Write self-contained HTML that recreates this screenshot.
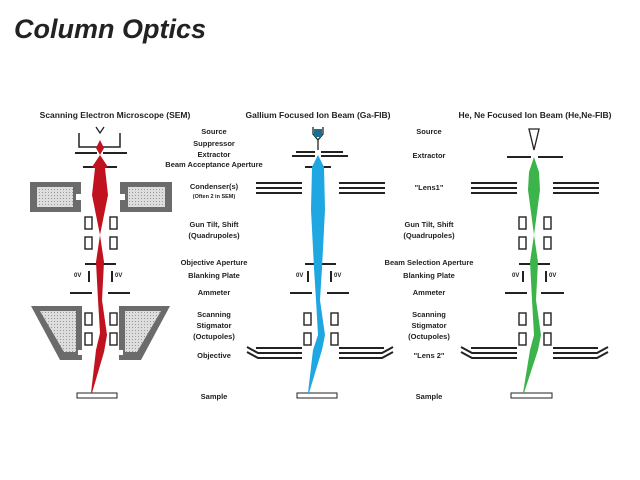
<!DOCTYPE html>
<html><head><meta charset="utf-8"><style>
html,body{margin:0;padding:0;background:#fff;width:640px;height:480px;overflow:hidden}
svg{display:block}
text{font-family:"Liberation Sans",sans-serif;font-weight:bold;fill:#222}
</style></head><body>
<svg width="640" height="480" viewBox="0 0 640 480">
<defs>
<pattern id="h" width="3" height="3" patternUnits="userSpaceOnUse"><rect width="3" height="3" fill="#ddd"/><rect width="1" height="1" fill="#999"/></pattern>
</defs>
<text x="14" y="38" font-size="27" font-style="italic" fill="#111">Column Optics</text>
<text x="115" y="118" font-size="8.5" text-anchor="middle">Scanning Electron Microscope (SEM)</text>
<text x="318" y="118" font-size="8.5" text-anchor="middle">Gallium Focused Ion Beam (Ga-FIB)</text>
<text x="535" y="118" font-size="8.5" text-anchor="middle">He, Ne Focused Ion Beam (He,Ne-FIB)</text>
<g font-size="7.5" text-anchor="middle">
<text x="214" y="134">Source</text>
<text x="214" y="146">Suppressor</text>
<text x="214" y="157">Extractor</text>
<text x="214" y="167">Beam Acceptance Aperture</text>
<text x="214" y="189">Condenser(s)</text>
<text x="214" y="198" font-size="5.5">(Often 2 in SEM)</text>
<text x="214" y="227">Gun Tilt, Shift</text>
<text x="214" y="238">(Quadrupoles)</text>
<text x="214" y="265">Objective Aperture</text>
<text x="214" y="278">Blanking Plate</text>
<text x="214" y="295">Ammeter</text>
<text x="214" y="317">Scanning</text>
<text x="214" y="328">Stigmator</text>
<text x="214" y="339">(Octupoles)</text>
<text x="214" y="358">Objective</text>
<text x="214" y="399">Sample</text>
<text x="429" y="134">Source</text>
<text x="429" y="158">Extractor</text>
<text x="429" y="190">"Lens1"</text>
<text x="429" y="227">Gun Tilt, Shift</text>
<text x="429" y="238">(Quadrupoles)</text>
<text x="429" y="265">Beam Selection Aperture</text>
<text x="429" y="278">Blanking Plate</text>
<text x="429" y="295">Ammeter</text>
<text x="429" y="317">Scanning</text>
<text x="429" y="328">Stigmator</text>
<text x="429" y="339">(Octupoles)</text>
<text x="429" y="358">"Lens 2"</text>
<text x="429" y="399">Sample</text>
</g>
<g font-size="6" font-weight="normal">
<text x="74" y="277">0V</text><text x="115" y="277">0V</text>
<text x="296" y="277">0V</text><text x="334" y="277">0V</text>
<text x="512" y="277">0V</text><text x="549" y="277">0V</text>
</g>
<g stroke="#222" stroke-width="2" fill="none">
<!-- SEM -->
<polyline points="79,133 79,147 120,147 120,133" stroke-width="1.5"/>
<polyline points="96,127 100,133 104,127" stroke-width="1.3"/>
<line x1="75" y1="153" x2="97" y2="153"/><line x1="103" y1="153" x2="127" y2="153"/>
<line x1="83" y1="167" x2="117" y2="167"/>
<line x1="85" y1="264" x2="116" y2="264"/>
<line x1="89" y1="271" x2="89" y2="282"/><line x1="112" y1="271" x2="112" y2="282"/>
<line x1="70" y1="293" x2="92" y2="293"/><line x1="108" y1="293" x2="130" y2="293"/>
<!-- Ga -->
<line x1="296" y1="152" x2="315" y2="152"/><line x1="321" y1="152" x2="343" y2="152"/>
<line x1="292" y1="156" x2="315" y2="156"/><line x1="321" y1="156" x2="348" y2="156"/>
<line x1="305" y1="167" x2="331" y2="167"/>
<line x1="256" y1="183" x2="302" y2="183"/><line x1="256" y1="188" x2="302" y2="188"/><line x1="256" y1="193" x2="302" y2="193"/>
<line x1="339" y1="183" x2="385" y2="183"/><line x1="339" y1="188" x2="385" y2="188"/><line x1="339" y1="193" x2="385" y2="193"/>
<line x1="305" y1="264" x2="336" y2="264"/>
<line x1="308" y1="271" x2="308" y2="282"/><line x1="331" y1="271" x2="331" y2="282"/>
<line x1="290" y1="293" x2="312" y2="293"/><line x1="327" y1="293" x2="349" y2="293"/>
<line x1="256" y1="348" x2="302" y2="348"/><polyline points="247,347 258,353 302,353"/><polyline points="247,352 258,358 302,358"/>
<line x1="339" y1="348" x2="384" y2="348"/><polyline points="393,347 382,353 339,353"/><polyline points="393,352 382,358 339,358"/>
<polyline points="313,127 313,134 318,140 323,134 323,127" stroke-width="1.3"/>
<line x1="318" y1="140" x2="318" y2="150" stroke-width="1.3"/>
<!-- He -->
<line x1="507" y1="157" x2="531" y2="157"/><line x1="538" y1="157" x2="563" y2="157"/>
<line x1="471" y1="183" x2="517" y2="183"/><line x1="471" y1="188" x2="517" y2="188"/><line x1="471" y1="193" x2="517" y2="193"/>
<line x1="553" y1="183" x2="599" y2="183"/><line x1="553" y1="188" x2="599" y2="188"/><line x1="553" y1="193" x2="599" y2="193"/>
<line x1="519" y1="264" x2="550" y2="264"/>
<line x1="523" y1="271" x2="523" y2="282"/><line x1="546" y1="271" x2="546" y2="282"/>
<line x1="505" y1="293" x2="527" y2="293"/><line x1="541" y1="293" x2="564" y2="293"/>
<line x1="471" y1="348" x2="517" y2="348"/><polyline points="461,347 472,353 517,353"/><polyline points="461,352 472,358 517,358"/>
<line x1="553" y1="348" x2="598" y2="348"/><polyline points="608,347 597,353 553,353"/><polyline points="608,352 597,358 553,358"/>
<polygon points="529,129 539,129 534,150" stroke-width="1.3" fill="#fff"/>
</g>
<rect x="314" y="129" width="8" height="8" fill="#1a6f8f"/>
<!-- quads/octupoles -->
<g fill="#fff" stroke="#222" stroke-width="1.4">
<rect x="85" y="217" width="7" height="12"/><rect x="110" y="217" width="7" height="12"/>
<rect x="85" y="237" width="7" height="12"/><rect x="110" y="237" width="7" height="12"/>
<rect x="85" y="313" width="7" height="12"/><rect x="110" y="313" width="7" height="12"/>
<rect x="85" y="333" width="7" height="12"/><rect x="110" y="333" width="7" height="12"/>
<rect x="304" y="313" width="7" height="12"/><rect x="331" y="313" width="7" height="12"/>
<rect x="304" y="333" width="7" height="12"/><rect x="331" y="333" width="7" height="12"/>
<rect x="519" y="217" width="7" height="12"/><rect x="544" y="217" width="7" height="12"/>
<rect x="519" y="237" width="7" height="12"/><rect x="544" y="237" width="7" height="12"/>
<rect x="519" y="313" width="7" height="12"/><rect x="544" y="313" width="7" height="12"/>
<rect x="519" y="333" width="7" height="12"/><rect x="544" y="333" width="7" height="12"/>
<rect x="77" y="393" width="40" height="5" stroke-width="1"/>
<rect x="297" y="393" width="40" height="5" stroke-width="1"/>
<rect x="511" y="393" width="41" height="5" stroke-width="1"/>
</g>
<!-- SEM lenses -->
<g fill="#6b6b6b">
<path d="M30,182H81V194H76V200H81V212H30Z"/>
<path d="M120,182H172V212H120V200H125V194H120Z"/>
<path d="M31,306H82V350H78V355H82V360H60Z"/>
<path d="M170,306H119V350H123V355H119V360H141Z"/>
</g>
<g fill="url(#h)">
<rect x="37" y="187" width="36" height="20"/>
<rect x="128" y="187" width="37" height="20"/>
<path d="M40,311H76V352H64Z"/>
<path d="M161,311H125V352H137Z"/>
</g>
<!-- beams -->
<polygon fill="#c1121f" points="100,140 104,148 100,155 108,167 105,168 108,195 100,235 104,262 102,300 107,335 104,352 92,393 91,393 96,350 100,333 98,300 96,262 100,235 92,195 95,168 92,167 100,155 96,148"/>
<polygon fill="#1ea7e1" points="318,155 324,167 325,210 322,268 320,300 325,335 322,350 309,393 308,393 313,350 318,335 316,300 314,268 311,210 312,167"/>
<polygon fill="#3cb44b" points="534,157 539,172 540,190 534,235 538,262 536,300 541,335 538,350 524,393 523,393 530,350 534,335 532,300 530,262 534,235 528,190 529,172"/>
</svg>
</body></html>
